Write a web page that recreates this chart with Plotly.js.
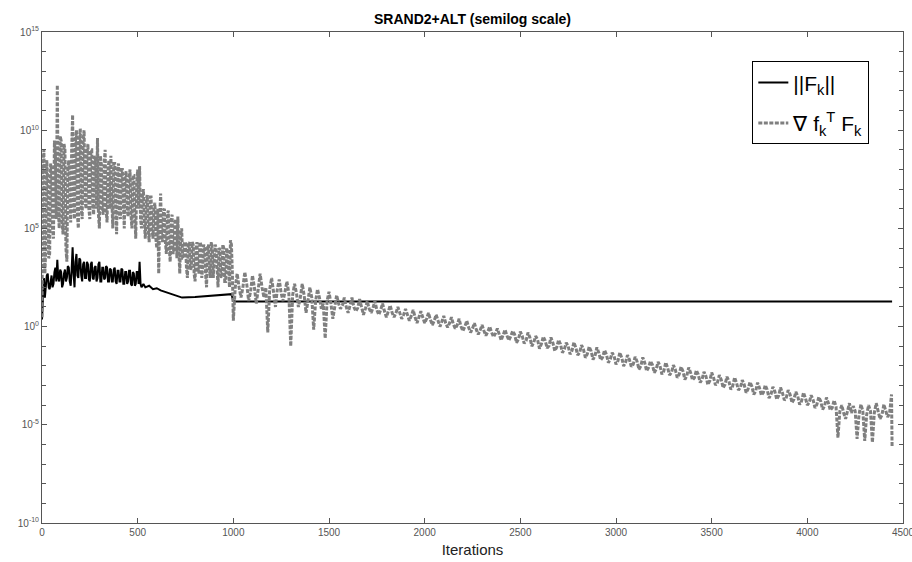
<!DOCTYPE html>
<html>
<head>
<meta charset="utf-8">
<script src="https://cdn.plot.ly/plotly-3.0.1.min.js"></script>
<style>html,body{margin:0;padding:0;background:#fff;}#chart{width:912px;height:562px;}</style>
</head>
<body>
<div id="chart"></div>
<script>
// ---- data ----
const chartTitle = "SRAND2+ALT (semilog scale)";
const xTitle = "Iterations";
const xTickVals = [0, 500, 1000, 1500, 2000, 2500, 3000, 3500, 4000, 4500];
const yDecades = [-10,-9,-8,-7,-6,-5,-4,-3,-2,-1,0,1,2,3,4,5,6,7,8,9,10,11,12,13,14,15];
const yLabelDecades = [-10, -5, 0, 5, 10, 15];

// ||F_k|| : noisy part, one value every 5 iterations from 0 to 530
const normStep = 5;
const normDense = [
  2.3, 5e1, 3e2, 3e1, 1e2, 4e2, 5e2, 1e2, 8e1, 3e2,
  4e2, 1e2, 1.5e2, 6e2, 1e3, 2e2, 2.5e3, 3e2, 2e2, 8e2,
  6e2, 1e2, 1.5e2, 5e2, 8e2, 2e2, 3e2, 1.2e3, 1e3, 2e2,
  1.2e2, 8e2, 1.1e4, 5e2, 1e2, 2e3, 5e3, 4e2, 3e2, 3e3,
  2.5e3, 4e2, 2e2, 1.5e3, 2e3, 3e2, 3e2, 2e3, 1.5e3, 2.5e2,
  2e2, 1.5e3, 2e3, 3e2, 2.5e2, 1e3, 1.2e3, 2e2, 3e2, 1.5e3,
  2e3, 2e2, 2e2, 1e3, 1e3, 2.5e2, 3e2, 1.2e3, 1e3, 2e2,
  2e2, 9e2, 8e2, 2e2, 2e2, 8e2, 1e3, 2e2, 1.5e2, 7e2,
  7e2, 2e2, 2e2, 9e2, 8e2, 1.5e2, 1.5e2, 6e2, 6e2, 1.5e2,
  2e2, 7e2, 7e2, 1.5e2, 1.2e2, 6e2, 5e2, 1.2e2, 1.5e2, 6e2,
  6e2, 1.5e2, 2e3, 1.5e2, 1e2, 1.2e2, 1.5e2];
// ||F_k|| : smooth tail
const normTailIter = [540, 560, 580, 600, 620, 640, 660, 680, 700, 732, 800, 900, 990, 1000, 1010, 4443];
const normTailVal  = [1e2, 1.2e2, 8e1, 9e1, 7e1, 6e1, 5e1, 4.5e1, 4e1, 3e1, 3.2e1, 3.8e1, 4.5e1, 2e1, 1.9e1, 1.9e1];

// grad f_k^T F_k : early part, one value every 5 iterations from 0 to 1000
const gradEarlyStep = 5;
const gradEarly = [
  3, 2e8, 1e9, 5e2, 1e4, 3e8, 3e7, 3e3, 5e3, 2e8,
  1e8, 1e5, 3e4, 3e9, 5e8, 3e5, 2e12, 1e6, 1e5, 5e9,
  3e9, 2e5, 5e4, 2e9, 1e9, 1e4, 2e3, 1e8, 3e8, 1e6,
  2e5, 1e9, 6e10, 1e6, 3e5, 3e9, 1e10, 5e5, 1e5, 3e9,
  1.2e10, 1e6, 3e5, 3e9, 1e10, 3e6, 1e6, 5e8, 2e9, 1e6,
  3e5, 1e9, 1e9, 2e6, 5e5, 5e8, 3e8, 1e6, 4e9, 5e5,
  1e5, 5e8, 2e8, 1e6, 5e5, 2e8, 1e9, 1e6, 2e5, 1e8,
  3e8, 1e6, 5e8, 3e6, 1e5, 2e8, 2e8, 1e6, 5e4, 1e8,
  2e8, 5e5, 3e5, 1e8, 1e8, 2e6, 1e5, 5e7, 8e7, 1e6,
  4e5, 3e7, 1e8, 5e5, 1e5, 5e7, 5e7, 5e5, 3e4, 2e7,
  1e8, 1e6, 1.5e8, 3e5, 1e5, 5e6, 1e7, 2e5, 3e4, 3e6,
  5e6, 1e5, 2e4, 4e6, 4e6, 1e5, 3e4, 1e6, 2e6, 3e4,
  1e4, 1e6, 5e2, 3e5, 6e6, 5e4, 2e4, 8e5, 1e6, 2e4,
  5e3, 5e5, 8e5, 1e4, 2e3, 3e5, 5e5, 5e3, 1e4, 2e5,
  3e5, 3e3, 4e5, 1e4, 5e2, 5e4, 1e5, 3e3, 3e3, 2e4,
  2e4, 1e3, 3e2, 1.5e4, 2e4, 8e2, 1e3, 2e4, 1.5e4, 5e2,
  2e2, 1e4, 2e4, 1e3, 5e2, 2e4, 1.5e4, 3e2, 1e3, 1.5e4,
  1e4, 5e2, 1e2, 1e4, 1.5e4, 1e3, 3e2, 2e4, 1e4, 3e2,
  2e3, 1.5e4, 1e4, 5e2, 1e2, 1e4, 8e3, 3e2, 5e2, 1.5e4,
  1e4, 2e2, 2e2, 1e4, 6e3, 1e3, 1e2, 2.5e4, 1.5e4, 5e2,
  2];
// grad f_k^T F_k : late part, one value every 10 iterations from 1010 to 4440
const gradLateStart = 1010;
const gradLateStep = 10;
const gradLate = [
  1e2, 5e2, 1e2, 3e1, 1e2, 6e2, 1.5e2, 2e1, 6e1, 4e2,
  1e2, 1.5e1, 8e1, 5e2, 1e2, 3e1, 1e2, 0.5, 8e1, 3e2,
  6e1, 1e1, 8e1, 2.5e2, 5e1, 2e1, 6e1, 2e2, 5e1, 0.1,
  4e1, 1.5e2, 5e1, 1e1, 3e1, 1.5e2, 4e1, 5, 2e1, 1e2,
  3e1, 0.7, 2e1, 8e1, 3e1, 8, 1.5e1, 0.25, 2e1, 6e1,
  1.5e1, 2.5, 1e1, 4e1, 1.5e1, 8, 1.2e1, 3e1, 1e1, 5,
  1.2e1, 3e1, 1e1, 6, 9, 2.5e1, 1e1, 4, 8, 2e1,
  8, 5, 9, 2e1, 7, 4, 7, 1.5e1, 6, 3,
  6, 1.2e1, 5, 3, 5, 1e1, 5, 2.5, 4, 8,
  4, 2, 3.5, 7, 3, 1.5, 3, 6, 3, 1.5,
  2.5, 5, 2.2, 1.2, 2, 4, 2, 1, 1.8, 3.5,
  1.5, 0.9, 1.5, 3, 1.3, 0.8, 1.2, 2.5, 1, 0.6,
  1, 2, 0.9, 0.5, 0.8, 1.5, 0.7, 0.4, 0.65, 1.2,
  0.6, 0.35, 0.55, 1, 0.5, 0.3, 0.45, 0.8, 0.4, 0.2,
  0.37, 0.7, 0.35, 0.2, 0.32, 0.6, 0.41, 0.15, 0.23, 0.55,
  0.33, 0.14, 0.19, 0.5, 0.28, 0.1, 0.155, 0.33, 0.22, 0.076,
  0.13, 0.31, 0.19, 0.08, 0.105, 0.28, 0.15, 0.058, 0.087, 0.21,
  0.126, 0.047, 0.071, 0.15, 0.102, 0.039, 0.059, 0.16, 0.085, 0.035,
  0.048, 0.115, 0.069, 0.026, 0.04, 0.095, 0.056, 0.021, 0.032, 0.087,
  0.047, 0.02, 0.027, 0.063, 0.038, 0.0145, 0.022, 0.047, 0.032, 0.012,
  0.018, 0.048, 0.026, 0.0098, 0.015, 0.035, 0.021, 0.0091, 0.012, 0.029,
  0.017, 0.0066, 0.01, 0.027, 0.0145, 0.0055, 0.0081, 0.0174, 0.0117, 0.0045,
  0.0068, 0.016, 0.0098, 0.0037, 0.0055, 0.015, 0.0079, 0.0034, 0.0046, 0.011,
  0.0066, 0.0025, 0.0037, 0.0089, 0.0054, 0.002, 0.0031, 0.0083, 0.0045, 0.0019,
  0.0025, 0.006, 0.0036, 0.0014, 0.0021, 0.005, 0.003, 0.0011, 0.0017, 0.0046,
  0.0025, 0.00105, 0.0014, 0.0034, 0.002, 0.00076, 0.00115, 0.0028, 0.00166, 0.00063,
  0.00095, 0.0026, 0.00135, 0.00058, 0.00078, 0.0019, 0.00112, 0.00043, 0.00065, 0.0015,
  0.00091, 0.00035, 0.00052, 0.0014, 0.00076, 0.00032, 0.00044, 0.00105, 0.00062, 0.00023,
  0.00035, 0.00085, 0.00051, 0.000195, 0.0003, 0.00079, 0.00042, 0.000178, 0.00024, 0.00058,
  0.00035, 0.000132, 0.0002, 0.00048, 0.00028, 0.000107, 0.000162, 0.00044, 0.00023, 0.0001,
  0.000135, 0.00032, 0.00019, 0.000072, 0.00011, 0.00026, 0.000158, 0.00006, 0.000091, 0.000245,
  0.000129, 0.000055, 0.000074, 0.000178, 0.000085, 2.2e-6, 5e-5, 1e-4, 4e-5, 2e-5,
  5e-5, 1.26e-4, 4e-5, 9e-5, 5e-5, 1.9e-6, 3.2e-5, 1.1e-4, 5e-5, 1.5e-6,
  3.2e-5, 1e-4, 5e-5, 1.26e-6, 4e-5, 1.26e-4, 5e-5, 2e-5, 3.2e-5, 1.1e-4,
  5e-5, 2.5e-5, 4e-5, 3.5e-4];
const gradTailIter = [4443];
const gradTailVal = [7e-7];

// ---- assemble traces ----
const normX = normDense.map((_, i) => i * normStep).concat(normTailIter);
const normY = normDense.concat(normTailVal);
const gradX = gradEarly.map((_, i) => i * gradEarlyStep)
  .concat(gradLate.map((_, i) => gradLateStart + i * gradLateStep))
  .concat(gradTailIter);
const gradY = gradEarly.concat(gradLate).concat(gradTailVal);

const yMajorVals = yLabelDecades.map(d => Math.pow(10, d));
const yMajorText = yLabelDecades.map(d => "10<sup>" + d + "</sup>");
const yMinorVals = yDecades.filter(d => yLabelDecades.indexOf(d) < 0).map(d => Math.pow(10, d));

const traces = [
  {x: normX, y: normY, type: 'scatter', mode: 'lines', name: '||F<sub>k</sub>||',
   legendgroup: 'a', line: {color: '#000000', width: 2}},
  {x: gradX, y: gradY, type: 'scatter', mode: 'lines', name: '\u2207 f<sub>k</sub><sup>T</sup> F<sub>k</sub>',
   legendgroup: 'b', line: {color: '#7f7f7f', width: 3, dash: '4px,1.5px'}}
];

const axisCommon = {
  showline: true, linecolor: '#555', linewidth: 1, mirror: 'ticks',
  ticks: 'inside', ticklen: 5, tickcolor: '#555', showgrid: false, zeroline: false,
  ticklabeloverflow: 'allow',
  tickfont: {family: 'Liberation Sans, Arial, sans-serif', size: 10, color: '#555'}
};

const layout = {
  width: 912, height: 562,
  paper_bgcolor: '#ffffff', plot_bgcolor: '#ffffff',
  margin: {l: 42, r: 9, t: 32, b: 39, pad: 0},
  font: {family: 'Liberation Sans, Arial, sans-serif', color: '#000'},
  title: {text: '<b>' + chartTitle + '</b>', font: {size: 14, color: '#000'},
          x: 0.5, xref: 'paper', xanchor: 'center', y: 0.966, yref: 'container', yanchor: 'middle'},
  xaxis: Object.assign({}, axisCommon, {
    range: [0, 4500], tickmode: 'array', tickvals: xTickVals, ticktext: xTickVals.map(String),
    title: {text: xTitle, font: {size: 15, color: '#222'}, standoff: 7}
  }),
  yaxis: Object.assign({}, axisCommon, {
    type: 'log', range: [-10, 15], tickmode: 'array', tickvals: yMajorVals, ticktext: yMajorText,
    minor: {tickmode: 'array', tickvals: yMinorVals, ticks: 'inside', ticklen: 4, tickcolor: '#555', showgrid: false}
  }),
  showlegend: true,
  legend: {x: 0.825, y: 0.94, xanchor: 'left', yanchor: 'top',
           bgcolor: '#ffffff', bordercolor: '#000', borderwidth: 1,
           font: {size: 21, color: '#000'}, itemwidth: 30, tracegroupgap: 10}
};

Plotly.newPlot('chart', traces, layout, {staticPlot: true, displayModeBar: false});
</script>
</body>
</html>
